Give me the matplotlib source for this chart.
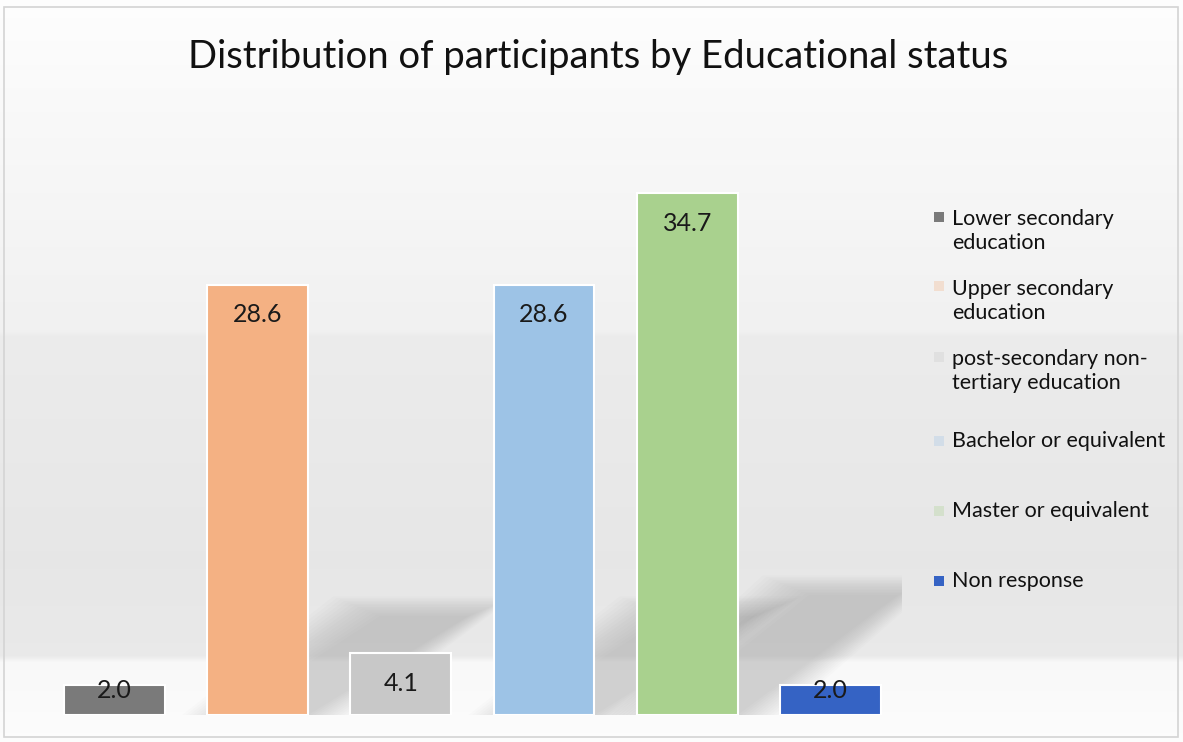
import numpy as np
import matplotlib
matplotlib.use("Agg")
import matplotlib.pyplot as plt
from matplotlib.patches import Rectangle, Polygon

# Share of participants (%) by highest level of education
categories = [
    "Lower secondary\neducation",
    "Upper secondary\neducation",
    "post-secondary non-\ntertiary education",
    "Bachelor or equivalent",
    "Master or equivalent",
    "Non response",
]
values = [2.0, 28.6, 4.1, 28.6, 34.7, 2.0]
colors = ["#7a7a7a", "#f4b183", "#c8c8c8", "#9dc3e6", "#a9d18e", "#3563c4"]
title = "Distribution of participants by Educational status"

W, H = 1183, 742
fig = plt.figure(figsize=(W / 100, H / 100), dpi=100)
font = ["Lato", "DejaVu Sans"]

# soft vertical background gradient
bg = fig.add_axes([0, 0, 1, 1], zorder=-10)
rows = np.arange(H)
stops_y = [0, 120, 330, 336, 560, 655, 662, 742]
stops_v = [0.995, 0.975, 0.945, 0.925, 0.905, 0.915, 0.975, 0.99]
shade = np.interp(rows, stops_y, stops_v)
img = np.repeat(shade[:, None], W, axis=1)
bg.imshow(np.dstack([img, img, img]), aspect="auto", extent=[0, W, H, 0])
bg.set_xlim(0, W)
bg.set_ylim(H, 0)
bg.axis("off")
bg.add_patch(Rectangle((4, 7), W - 9, H - 12, fill=False, edgecolor="#d4d4d4", lw=1.2))

# bar plot area
ax = fig.add_axes([42.85 / W, 27 / H, (902 - 42.85) / W, (715 - 113.4) / H])
ax.set_xlim(-0.5, 5.5)
ax.set_ylim(0, 40)
ax.axis("off")
ax.patch.set_alpha(0)

x = np.arange(len(values))
width = 0.705

# slanted, blurred shadows cast behind the taller bars
for xi, v in zip(x, values):
    if v < 10:
        continue
    sh = 0.23 * v
    for k in range(14):
        g = k * 0.025
        poly = Polygon(
            [
                (xi - width / 2 + 0.15 - g, 0),
                (xi + width / 2 + g, 0),
                (xi + width / 2 + 1.12 + g, sh + g * 4),
                (xi + width / 2 + 0.5 - g, sh + g * 4),
            ],
            closed=True, facecolor="#7d7d7d", edgecolor="none", alpha=0.022, zorder=1,
        )
        ax.add_patch(poly)

bars = ax.bar(x, values, width=width, color=colors, edgecolor="white", linewidth=1.5, zorder=3)

for xi, v in zip(x, values):
    ly = v - 2.0 if v > 3 else v * 0.83
    ax.text(xi, ly, f"{v:.1f}", ha="center", va="center", fontsize=18,
            color="#1a1a1a", family=font, zorder=5)

# title
fig.text(598 / W, 1 - 57 / H, title, ha="center", va="center", fontsize=27.5,
         color="#111111", family=font)

# legend
slot = 70.0
y0 = 231.0
for i, (lab, c) in enumerate(zip(categories, colors)):
    yc = y0 + i * slot
    nlines = lab.count("\n") + 1
    fig.text(952 / W, 1 - yc / H, lab, ha="left", va="center", fontsize=15.5,
             color="#111111", family=font, linespacing=1.25)
    my = yc - (nlines - 1) * 14
    alpha = 1.0 if i in (0, 5) else 0.3
    fig.patches.append(Rectangle(((934) / W, 1 - (my + 4.5) / H), 10 / W, 10 / H,
                                 transform=fig.transFigure, facecolor=c,
                                 edgecolor="none", alpha=alpha, figure=fig))

fig.savefig("out.png", dpi=100)
